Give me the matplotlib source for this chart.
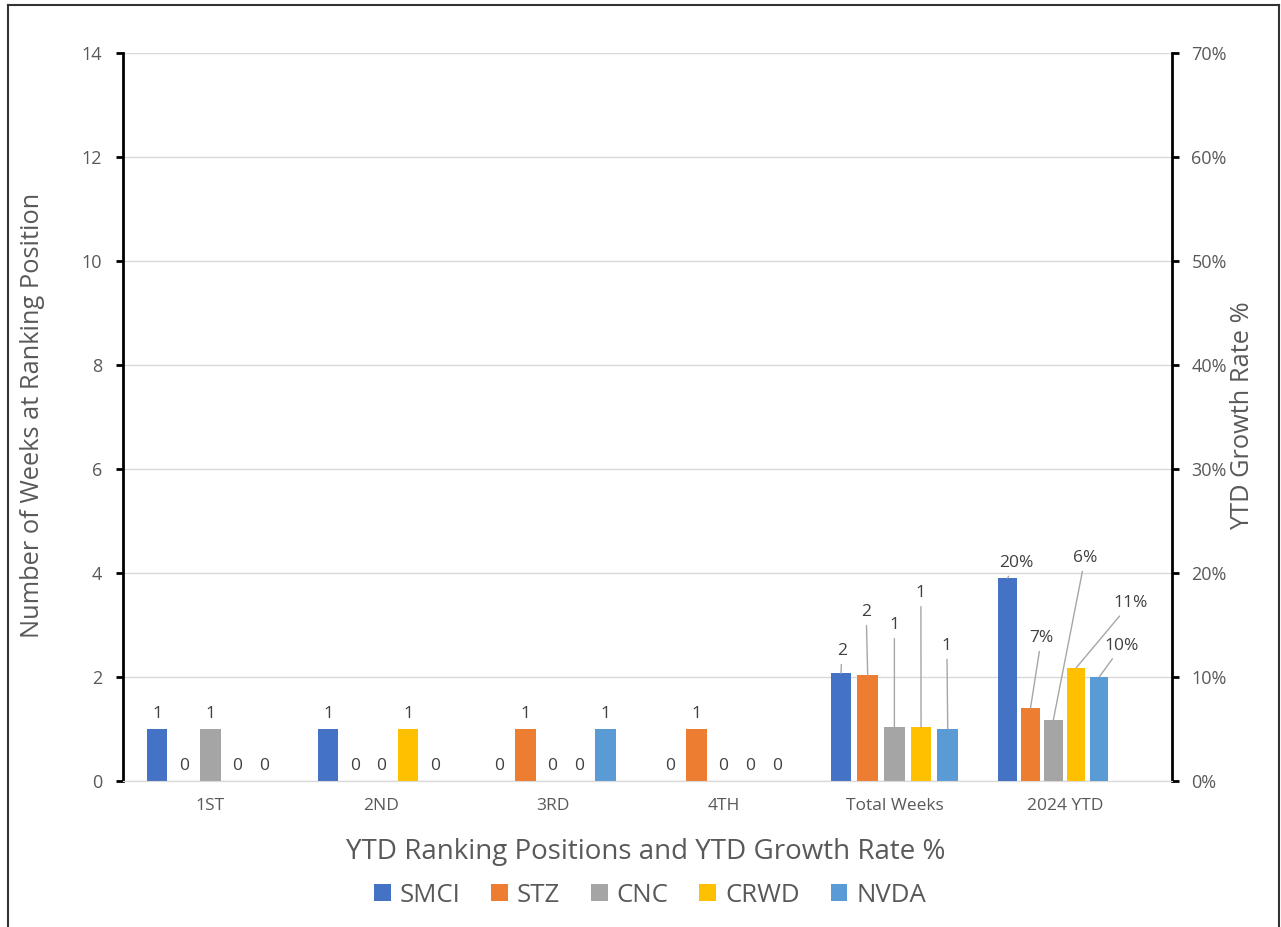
import matplotlib
matplotlib.use('Agg')
import matplotlib.pyplot as plt
from matplotlib.lines import Line2D
from matplotlib.patches import Patch
import numpy as np

plt.rcParams['font.family'] = ['Open Sans', 'DejaVu Sans']

categories = ['1ST', '2ND', '3RD', '4TH', 'Total Weeks', '2024 YTD']
tickers = ['SMCI', 'STZ', 'CNC', 'CRWD', 'NVDA']
smci_weeks = [1, 1, 0, 0, 2.07]
stz_weeks = [0, 0, 1, 1, 2.03]
cnc_weeks = [1, 0, 0, 0, 1.03]
crwd_weeks = [0, 1, 0, 0, 1.03]
nvda_weeks = [0, 0, 1, 0, 1.0]
ytd_growth = [0.195, 0.07, 0.059, 0.109, 0.10]
colors = ['#4472C4', '#ED7D31', '#A5A5A5', '#FFC000', '#5B9BD5']

weeks = [smci_weeks, stz_weeks, cnc_weeks, crwd_weeks, nvda_weeks]

W, H = 1281, 927
fig = plt.figure(figsize=(W / 100, H / 100), dpi=100)
fig.patch.set_facecolor('white')

ax = fig.add_axes([123 / W, 1 - 781 / H, 1049 / W, 728 / H])
ax2 = ax.twinx()

txt = '#404040'
tick_c = '#595959'
lab_fs = 12.5

# primary bars (weeks)
step, bw = 0.156, 0.121
x_main = np.arange(5)
for i, (vals, c) in enumerate(zip(weeks, colors)):
    xs = x_main + (i - 2) * step
    ax.bar(xs, vals, width=bw, color=c, zorder=3)
    for j in range(4):
        v = vals[j]
        ax.annotate(f'{v:.0f}', (xs[j], v), xytext=(0, 5), textcoords='offset points',
                    ha='center', va='bottom', fontsize=lab_fs, color=txt)

# Total weeks labels with leader lines
tw_label_pos = [(3.693, 2.5), (3.835, 3.25), (4.0, 3.0), (4.155, 3.615), (4.307, 2.6)]
for i, vals in enumerate(weeks):
    xb = 4 + (i - 2) * step
    v = vals[4]
    lx, ly = tw_label_pos[i]
    ax.annotate(f'{v:.0f}', (xb, v), xytext=(lx, ly), textcoords='data',
                ha='center', va='center', fontsize=lab_fs, color=txt,
                arrowprops=dict(arrowstyle='-', color='#A6A6A6', lw=1,
                                shrinkA=2, shrinkB=0))

# secondary bars (YTD growth)
ystep, ybw = 0.134, 0.107
yc = 4.93
ytd_label_pos = [(4.711, 0.2095), (4.86, 0.1375), (5.115, 0.2145), (5.38, 0.171), (5.33, 0.13)]
for i, (v, c) in enumerate(zip(ytd_growth, colors)):
    xb = yc + (i - 2) * ystep
    ax2.bar(xb, v, width=ybw, color=c, zorder=3)
    lx, ly = ytd_label_pos[i]
    ax2.annotate(f'{v * 100:.0f}%', (xb, v), xytext=(lx, ly), textcoords='data',
                 ha='center', va='center', fontsize=lab_fs, color=txt,
                 arrowprops=dict(arrowstyle='-', color='#A6A6A6', lw=1,
                                 shrinkA=2, shrinkB=0))

xmin = -0.511
ax.set_xlim(xmin, xmin + 1049 / 171)
ax.set_ylim(0, 14)
ax.set_yticks(np.arange(0, 15, 2))
ax2.set_ylim(0, 0.7)
ax2.set_yticks(np.arange(0, 0.71, 0.1))
ax2.set_yticklabels([f'{int(round(t * 100))}%' for t in np.arange(0, 0.71, 0.1)])

ax.set_xticks(range(6))
ax.set_xticklabels(categories)

ax.yaxis.grid(True, color='#D9D9D9', lw=1, zorder=0)
ax.set_axisbelow(True)

for a in (ax, ax2):
    a.spines['top'].set_visible(False)
    a.spines['bottom'].set_color('#D9D9D9')
    a.spines['left'].set_visible(False)
    a.spines['right'].set_visible(False)
ax.spines['left'].set_visible(True)
ax.spines['left'].set_color('black')
ax.spines['left'].set_linewidth(2)
ax2.spines['right'].set_visible(True)
ax2.spines['right'].set_color('black')
ax2.spines['right'].set_linewidth(2)

ax.tick_params(axis='y', direction='out', length=5, width=2, color='black',
               labelcolor=tick_c, labelsize=13, pad=10)
ax2.tick_params(axis='y', direction='out', length=5, width=2, color='black',
                labelcolor=tick_c, labelsize=13, pad=9)
ax.tick_params(axis='x', length=0, labelcolor=tick_c, labelsize=12.5, pad=12)

fig.text(33 / W, 1 - 415 / H, 'Number of Weeks at Ranking Position', rotation=90,
         ha='center', va='center', fontsize=18.3, color=tick_c)
fig.text(1243 / W, 1 - 416 / H, 'YTD Growth Rate %', rotation=90,
         ha='center', va='center', fontsize=18.3, color=tick_c)
fig.text(646 / W, 1 - 852 / H, 'YTD Ranking Positions and YTD Growth Rate %',
         ha='center', va='center', fontsize=20, color=tick_c)

handles = [Patch(facecolor=c, label=t) for c, t in zip(colors, tickers)]
leg = fig.legend(handles=handles, loc='center', bbox_to_anchor=(650 / W, 1 - 895 / H),
                 ncol=5, frameon=False, fontsize=18.5, handlelength=0.65, handleheight=0.65,
                 columnspacing=1.2, handletextpad=0.35)
for t in leg.get_texts():
    t.set_color(tick_c)

# outer border (left, top, right)
bc = '#333333'
fig.add_artist(Line2D([8 / W, 8 / W], [0, 1 - 5 / H], color=bc, lw=1.5))
fig.add_artist(Line2D([8 / W, 1279 / W], [1 - 5 / H, 1 - 5 / H], color=bc, lw=1.5))
fig.add_artist(Line2D([1279 / W, 1279 / W], [0, 1 - 5 / H], color=bc, lw=1.5))

fig.savefig('out.png', dpi=100)
